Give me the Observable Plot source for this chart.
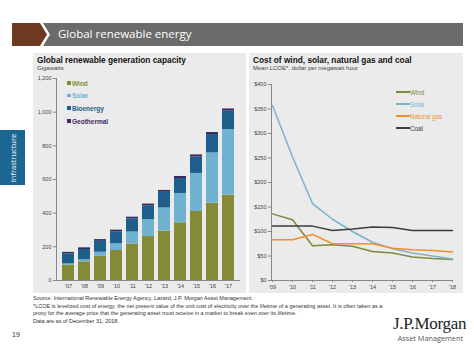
<!DOCTYPE html>
<html><head><meta charset="utf-8">
<script src="https://cdn.jsdelivr.net/npm/d3@7"></script>
<script src="https://cdn.jsdelivr.net/npm/@observablehq/plot@0.6"></script>
<style>
html,body{margin:0;padding:0;}
body{width:474px;height:350px;background:#fff;position:relative;overflow:hidden;font-family:"Liberation Sans",Arial,sans-serif;color:#333;}
.abs{position:absolute;}
.panel{position:absolute;top:53px;height:240px;background:#ebebeb;}
.ptitle{position:absolute;left:4px;top:2px;font-weight:bold;font-size:8.3px;color:#111;white-space:nowrap;}
.psub{position:absolute;left:4px;top:12px;font-size:6px;color:#444;white-space:nowrap;}
.leg{position:absolute;font-size:6.5px;font-weight:bold;white-space:nowrap;line-height:1;}
.legr{position:absolute;font-size:6.3px;white-space:nowrap;line-height:1;}
.sw{display:inline-block;width:3.5px;height:3.5px;margin-right:1.5px;vertical-align:1px;}
.ln{display:inline-block;width:14px;height:2px;vertical-align:2px;}
.foot{position:absolute;left:33px;font-size:5.5px;color:#333;white-space:nowrap;line-height:7px;}
</style></head><body>

<svg class="abs" style="left:0;top:0" width="474" height="50">
  <polygon points="12,23 40,23 47,34.5 40,46 12,46" fill="#6d3a21"/>
  <polygon points="43,23 463,23 463,46 43,46 50,34.5" fill="#6b6b6b"/>
</svg>
<div class="abs" style="left:58px;top:26px;font-family:'Open Sans',sans-serif;font-size:11.5px;color:#fff;white-space:nowrap;">Global renewable energy</div>

<div class="abs" style="left:0;top:130px;width:25px;height:55px;background:#1c6692;"></div>
<div class="abs" style="left:12.5px;top:157.5px;transform:translate(-50%,-50%) rotate(-90deg);font-family:'Open Sans',sans-serif;font-size:7.5px;color:#fff;white-space:nowrap;">Infrastructure</div>

<div class="panel" id="left" style="left:33px;width:213px;">
  <div class="ptitle">Global renewable generation capacity</div>
  <div class="psub">Gigawatts</div>
</div>
<div class="panel" id="right" style="left:249px;width:214px;">
  <div class="ptitle">Cost of wind, solar, natural gas and coal</div>
  <div class="psub">Mean LCOE*, dollar per megawatt hour</div>
</div>

<div class="foot" style="top:295px;">Source: International Renewable Energy Agency, Lazard, J.P. Morgan Asset Management.</div>
<div class="foot" style="top:303px;">*LCOE is levelized cost of energy, the net present value of the unit-cost of electricity over the lifetime of a generating asset. It is often taken as a<br>proxy for the average price that the generating asset must receive in a market to break even over its lifetime.</div>
<div class="foot" style="top:318px;">Data are as of December 31, 2018.</div>
<div class="abs" style="left:12px;top:331px;font-size:7px;color:#333;">19</div>
<div class="abs" style="left:393px;top:314px;width:70px;text-align:right;font-family:'Liberation Serif','DejaVu Serif',serif;font-size:17px;color:#222;letter-spacing:-0.3px;white-space:nowrap;">J.P.Morgan</div>
<div class="abs" style="left:393px;top:333px;width:70px;text-align:right;font-family:'Open Sans',sans-serif;font-size:7.3px;color:#555;white-space:nowrap;">Asset Management</div>

<script>
// ---- Left chart data (gigawatts) ----
const capYears = ["'07","'08","'09","'10","'11","'12","'13","'14","'15","'16","'17"];
const capSeries = ["Wind","Solar","Bioenergy","Geothermal"];
const capColors = ["#858a36","#70b1cf","#1d5e8a","#3b2a62"];
const wind  = [91, 111, 144, 178, 216, 261, 293, 342, 410, 459, 507];
const solar = [8, 12, 24, 40, 72, 101, 138, 175, 226, 299, 390];
const bio   = [59, 61, 65, 71, 78, 81, 93, 89, 98, 109, 110];
const geo   = [9, 10, 10, 10, 10, 11, 11, 12, 12, 12, 12];
const capTicks = [0, 200, 400, 600, 800, 1000, 1200];

// ---- Right chart data (USD per MWh) ----
const lcoeYears = ["'09","'10","'11","'12","'13","'14","'15","'16","'17","'18"];
const lcoeSeries = ["Wind","Solar","Natural gas","Coal"];
const lcoeColors = ["#7d8a3c","#79b3cf","#f08f2e","#3c3c3c"];
const windCost  = [136, 124, 71, 73, 70, 59, 56, 48, 45, 43];
const solarCost = [357, 252, 157, 125, 100, 78, 65, 56, 50, 44];
const gasCost   = [83, 83, 94, 75, 75, 75, 66, 63, 61, 58];
const coalCost  = [111, 111, 111, 102, 105, 109, 108, 102, 102, 102];
const lcoeTicks = [0, 50, 100, 150, 200, 250, 300, 350, 400];

const capRows = capYears.flatMap((y, i) => [
  {year: y, type: "Wind", v: wind[i]},
  {year: y, type: "Solar", v: solar[i]},
  {year: y, type: "Bioenergy", v: bio[i]},
  {year: y, type: "Geothermal", v: geo[i]}
]);
const costArrays = [windCost, solarCost, gasCost, coalCost];
const lcoeRows = lcoeSeries.flatMap((s, k) => lcoeYears.map((y, i) => ({year: y, type: s, v: costArrays[k][i]})));

const axisStyle = {fontFamily: "'Liberation Sans',Arial,sans-serif", fontSize: "5.5px", color: "#444", background: "transparent", overflow: "visible"};

const left = Plot.plot({
  width: 213, height: 240,
  marginTop: 25, marginBottom: 13, marginLeft: 23, marginRight: 6,
  style: axisStyle,
  x: {domain: capYears, paddingInner: 0.226, paddingOuter: 0.09, label: null},
  y: {domain: [0, 1200], label: null},
  color: {domain: capSeries, range: capColors},
  marks: [
    Plot.barY(capRows, {x: "year", y: "v", fill: "type", order: capSeries}),
    Plot.axisY({ticks: capTicks, tickFormat: d3.format(","), tickSize: 3, tickPadding: 2, stroke: "#888", label: null}),
    Plot.axisX({tickSize: 0, tickPadding: 4, label: null}),
    Plot.frame({anchor: "left", stroke: "#888"}),
    Plot.ruleY([0], {stroke: "#888"})
  ]
});
left.style.position = "absolute"; left.style.left = "0px"; left.style.top = "0px";
document.getElementById("left").appendChild(left);

const right = Plot.plot({
  width: 214, height: 240,
  marginTop: 31, marginBottom: 13, marginLeft: 22, marginRight: 11,
  style: axisStyle,
  x: {type: "point", domain: lcoeYears, padding: 0, label: null},
  y: {domain: [0, 400], label: null},
  color: {domain: lcoeSeries, range: lcoeColors},
  marks: [
    Plot.axisY({ticks: lcoeTicks, tickFormat: d => "$" + d, tickSize: 3, tickPadding: 2, stroke: "#888", label: null}),
    Plot.axisX({tickSize: 2, tickPadding: 3, stroke: "#888", label: null}),
    Plot.frame({anchor: "left", stroke: "#888"}),
    Plot.ruleY([0], {stroke: "#888"}),
    Plot.lineY(lcoeRows, {x: "year", y: "v", stroke: "type", strokeWidth: 1.5})
  ]
});
right.style.position = "absolute"; right.style.left = "0px"; right.style.top = "0px";
document.getElementById("right").appendChild(right);

// Legends (HTML)
const lp = document.getElementById("left");
capSeries.forEach((s, i) => {
  const d = document.createElement("div");
  d.className = "leg";
  d.style.left = "34px"; d.style.top = (27.5 + i * 12.7) + "px";
  d.style.color = capColors[i];
  d.innerHTML = `<span class="sw" style="background:${capColors[i]}"></span>${s}`;
  lp.appendChild(d);
});
const rp = document.getElementById("right");
lcoeSeries.forEach((s, i) => {
  const d = document.createElement("div");
  d.className = "legr";
  d.style.left = "147px"; d.style.top = (37 + i * 12) + "px";
  d.style.color = lcoeColors[i];
  d.innerHTML = `<span class="ln" style="background:${lcoeColors[i]}"></span>${s}`;
  rp.appendChild(d);
});
</script>
</body></html>
